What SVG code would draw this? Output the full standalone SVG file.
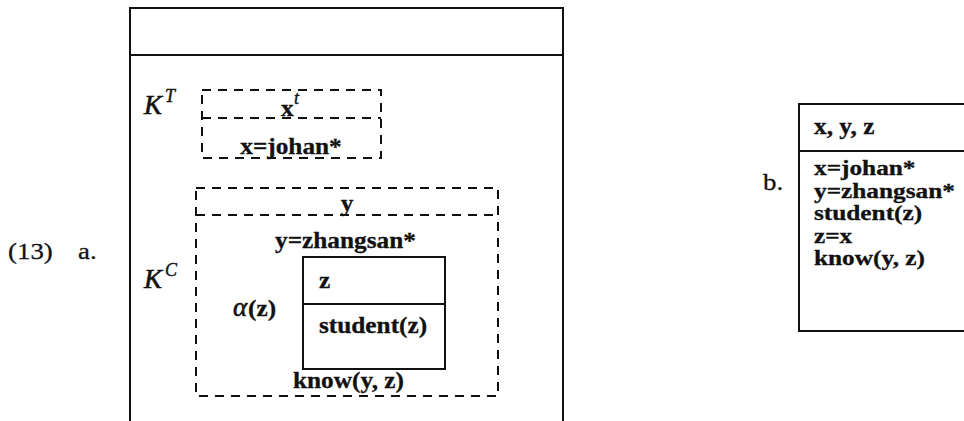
<svg xmlns="http://www.w3.org/2000/svg" width="964" height="421" viewBox="0 0 964 421">
  <style>
    .solid { fill: none; stroke: #111; stroke-width: 2; }
    .dash { fill: none; stroke: #111; stroke-width: 2; stroke-dasharray: 9 7; }
    .bx { font-family: "Liberation Serif", "Times New Roman", serif; font-weight: bold; font-size: 23px; fill: #111; stroke: #111; stroke-width: 0.3; }
    .bx.list { font-size: 22px; }
    .rm { font-family: "Liberation Serif", "Times New Roman", serif; font-size: 24px; fill: #111; stroke: #111; stroke-width: 0.3; }
    .mi { font-family: "Liberation Serif", "Times New Roman", serif; font-style: italic; font-size: 27px; fill: #111; stroke: #111; stroke-width: 0.6; }
    .sup { font-family: "Liberation Serif", "Times New Roman", serif; font-style: italic; font-size: 18px; fill: #111; stroke: #111; stroke-width: 0.4; }
  </style>
  <rect width="964" height="421" fill="#fff"/>

  <!-- example number and item labels -->
  <g id="labels">
    <text class="rm" transform="translate(8 259) scale(1.12 1)">(13)</text>
    <text class="rm" transform="translate(78 259) scale(1.12 1)">a.</text>
    <text class="rm" transform="translate(763 190) scale(1.12 1)">b.</text>
  </g>

  <!-- (a) outer DRS box -->
  <g id="drs-a">
    <path class="solid" d="M130 440 V8 H563 V440 M130 55 H563"/>

    <!-- topic box K^T -->
    <g id="k-topic">
      <text class="mi" x="144" y="114">K</text>
      <text class="sup" x="165" y="102">T</text>
      <rect class="dash" x="202" y="90" width="179" height="68"/>
      <line class="dash" x1="202" y1="118" x2="381" y2="118"/>
      <text class="bx" transform="translate(281 116) scale(1.1 1)">x</text>
      <text class="sup" x="294" y="104">t</text>
      <text class="bx" text-anchor="middle" transform="translate(291 154) scale(1.1 1)">x=johan*</text>
    </g>

    <!-- comment box K^C -->
    <g id="k-comment">
      <text class="mi" x="144" y="288">K</text>
      <text class="sup" x="165" y="276">C</text>
      <rect class="dash" x="196" y="188" width="302" height="208"/>
      <line class="dash" x1="196" y1="215" x2="498" y2="215"/>
      <text class="bx" text-anchor="middle" transform="translate(347 211) scale(1.1 1)">y</text>
      <text class="bx" transform="translate(275 248) scale(1.1 1)">y=zhangsan*</text>
      <text class="mi" x="233" y="316">α</text>
      <text class="bx" transform="translate(248 316) scale(1.1 1)">(z)</text>
      <text class="bx" transform="translate(293 388) scale(1.1 1)">know(y, z)</text>
    </g>

    <!-- embedded box alpha(z) -->
    <g id="alpha-box">
      <rect class="solid" x="303" y="257" width="142" height="112"/>
      <line class="solid" x1="303" y1="304" x2="445" y2="304"/>
      <text class="bx" transform="translate(319 288) scale(1.1 1)">z</text>
      <text class="bx" transform="translate(319 333) scale(1.1 1)">student(z)</text>
    </g>
  </g>

  <!-- (b) merged DRS box -->
  <g id="drs-b">
    <path class="solid" d="M980 104 H799 V331 H980 M799 151 H980"/>
    <text class="bx" transform="translate(814 134) scale(1.1 1)">x, y, z</text>
    <text class="bx list" transform="translate(814 175) scale(1.15 1)">x=johan*</text>
    <text class="bx list" transform="translate(814 197.5) scale(1.15 1)">y=zhangsan*</text>
    <text class="bx list" transform="translate(814 220) scale(1.15 1)">student(z)</text>
    <text class="bx list" transform="translate(814 242.5) scale(1.15 1)">z=x</text>
    <text class="bx list" transform="translate(814 265) scale(1.15 1)">know(y, z)</text>
  </g>
</svg>
